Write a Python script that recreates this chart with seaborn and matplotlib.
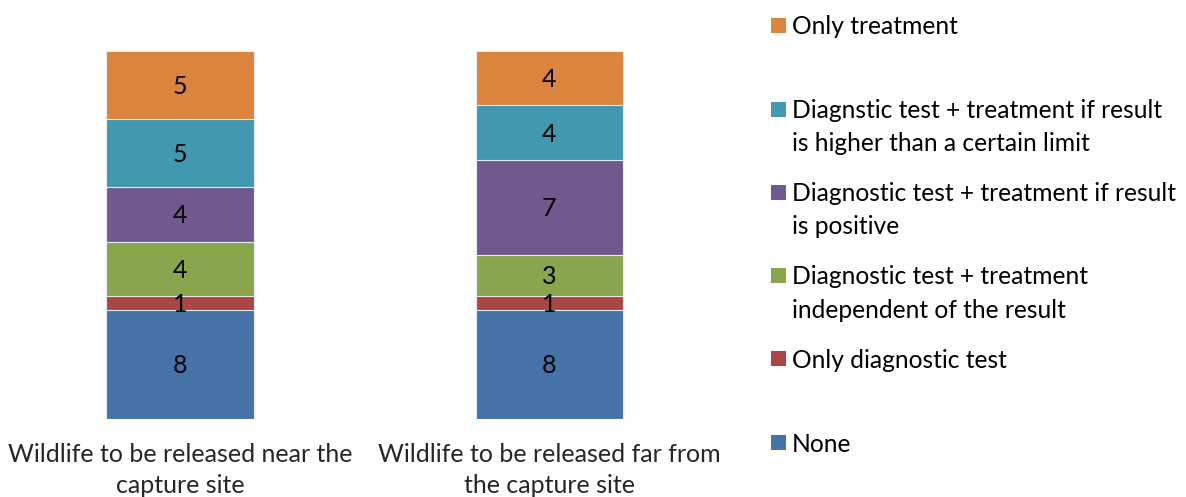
import matplotlib
matplotlib.use("Agg")
import matplotlib.pyplot as plt
from matplotlib.patches import Rectangle
import numpy as np
import seaborn as sns

# Categories (x axis) and series, listed bottom to top of each stack
categories = ["Wildlife to be released near the\ncapture site",
              "Wildlife to be released far from\nthe capture site"]
series_names = ["None",
                "Only diagnostic test",
                "Diagnostic test + treatment\nindependent of the result",
                "Diagnostic test + treatment if result\nis positive",
                "Diagnstic test + treatment if result\nis higher than a certain limit",
                "Only treatment"]
none_vals = [8, 8]
only_diag_vals = [1, 1]
test_indep_vals = [4, 3]
test_positive_vals = [4, 7]
test_limit_vals = [5, 4]
only_treat_vals = [5, 4]

colors = ["#4572A7", "#AA4643", "#89A54E", "#71588F", "#4198AF", "#DB843D"]

series_vals = [none_vals, only_diag_vals, test_indep_vals,
               test_positive_vals, test_limit_vals, only_treat_vals]

sns.set_style("white")
plt.rcParams["font.family"] = ["Lato", "DejaVu Sans"]

W, H = 1186, 497
fig = plt.figure(figsize=(W / 100, H / 100), dpi=100)

# plot area in pixels
ax_left, ax_width = 0, 734
ax_bottom, ax_height = 78.5, 367.5
ax = fig.add_axes([ax_left / W, ax_bottom / H, ax_width / W, ax_height / H])

vals = np.array(series_vals, dtype=float)
tops = np.cumsum(vals, axis=0)
bottoms = tops - vals

# stacked bars: draw cumulative totals from the top series downwards
for i in range(len(series_names) - 1, -1, -1):
    sns.barplot(x=categories, y=tops[i], color=colors[i], width=0.4,
                saturation=1, edgecolor="#e4ecf5", linewidth=0.8, ax=ax)

# value labels centred in each segment
for i in range(len(series_names)):
    for j in range(len(categories)):
        ax.text(j, bottoms[i, j] + vals[i, j] / 2 - 0.1, f"{int(vals[i, j])}",
                ha="center", va="center", fontsize=18, color="black")

ax.set_xlim(-0.5 + 4.5 / 369, 1.5)
ax.set_ylim(0, 27)
ax.set_yticks([])
ax.set_xlabel("")
ax.set_ylabel("")
ax.tick_params(axis="x", length=0, pad=18, labelsize=18)
for lbl in ax.get_xticklabels():
    lbl.set_linespacing(1.42)
for s in ax.spines.values():
    s.set_visible(False)

# legend on the right, top entry first
legend_y = [442.5, 358.5, 275.5, 192, 109, 25.5]
sq = 15
for i, name in enumerate(series_names):
    cy = legend_y[i]
    fig.patches.append(Rectangle((771 / W, 1 - (cy + sq / 2) / H), sq / W, sq / H,
                                 transform=fig.transFigure, facecolor=colors[i],
                                 edgecolor="none"))
    for k, line in enumerate(name.split("\n")):
        fig.text(792 / W, 1 - (cy + 1.5 + k * 33) / H, line, ha="left", va="center",
                 fontsize=17.7, color="black")

fig.savefig("out.png", dpi=100, facecolor="white")
